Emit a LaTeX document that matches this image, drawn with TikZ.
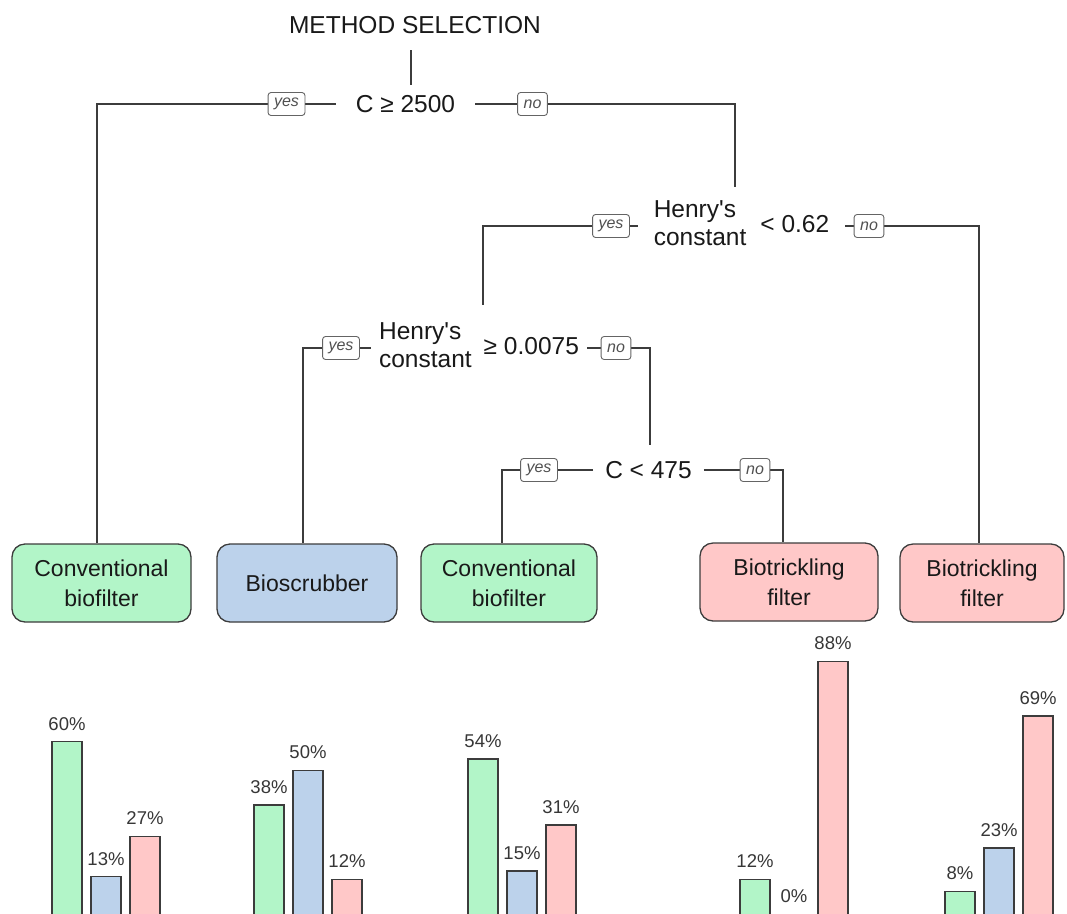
\documentclass[tikz,border=0pt]{standalone}
\usepackage{fontspec}
\newfontfamily\arial{Liberation Sans}
\definecolor{lgreen}{RGB}{178,245,200}
\definecolor{lblue}{RGB}{188,210,235}
\definecolor{lred}{RGB}{255,200,200}
\definecolor{edge}{RGB}{60,60,60}
\definecolor{txt}{RGB}{25,25,25}
\definecolor{pcttxt}{RGB}{55,55,55}
\definecolor{ynbox}{RGB}{100,100,100}
\definecolor{yntxt}{RGB}{80,80,80}
\begin{document}
\begin{tikzpicture}[x=1pt,y=-1pt,
  conn/.style={draw=edge, line width=1.2pt},
  split/.style={font=\arial\fontsize{24.5}{28}\selectfont, text=txt, inner ysep=0pt},
  yn/.style={draw=ynbox, fill=white, rounded corners=3pt, line width=0.9pt,
    font=\arial\itshape\fontsize{16}{19}\selectfont, text=yntxt,
    inner xsep=6pt, inner ysep=0pt, minimum height=23pt},
  leaf/.style={draw=edge, line width=1.3pt, rounded corners=13pt, minimum height=78pt,
    align=center, font=\arial\fontsize{23}{30}\selectfont, text=txt},
  barbox/.style={draw=edge, line width=1.1pt},
  pct/.style={font=\arial\fontsize{18.5}{22}\selectfont, text=pcttxt, inner sep=0pt}
]
\fill[white] (0,0) rectangle (1067,913);
\useasboundingbox (0,0) rectangle (1067,913);

% split nodes
\node[split] (title) at (415,25) {METHOD SELECTION};
\node[split, inner xsep=20pt] (s1) at (405.5,104) {C ≥ 2500};
\node[split, inner xsep=16pt] (s2) at (741.5,226) {\begin{tabular}{@{}l@{}}Henry's\\constant\end{tabular}\hspace{14pt}< 0.62};
\node[split, inner xsep=8pt] (s3) at (479,348) {\begin{tabular}{@{}l@{}}Henry's\\constant\end{tabular}\hspace{12pt}≥ 0.0075};
\node[split, inner xsep=12pt] (s4) at (648.5,470) {C < 475};

% leaves
\node[leaf, fill=lgreen, minimum width=179pt] (l1) at (101.5,583) {Conventional\\biofilter};
\node[leaf, fill=lblue, minimum width=180pt] (l2) at (307,583) {Bioscrubber};
\node[leaf, fill=lgreen, minimum width=176pt] (l3) at (509,583) {Conventional\\biofilter};
\node[leaf, fill=lred, minimum width=178pt] (l4) at (789,582) {Biotrickling\\filter};
\node[leaf, fill=lred, minimum width=164pt] (l5) at (982,583) {Biotrickling\\filter};

% connector ends
\coordinate (tA) at (411,50);
\coordinate (tB) at (411,85);
\coordinate (t2) at (735,187);
\coordinate (t3) at (483,305);
\coordinate (t4) at (650,445);

% connectors (drawn before yes/no boxes, which sit on top)
\draw[conn] (tA) -- (tB);
\draw[conn] (s1.west) -| ([xshift=-4.5pt]l1.north);
\draw[conn] (s1.east) -| (t2);
\draw[conn] (s2.west) -| (t3);
\draw[conn] (s2.east) -| ([xshift=-3pt]l5.north);
\draw[conn] (s3.west) -| ([xshift=-4pt]l2.north);
\draw[conn] (s3.east) -| (t4);
\draw[conn] (s4.west) -| ([xshift=-7pt]l3.north);
\draw[conn] (s4.east) -| ([xshift=-6pt]l4.north);

% yes / no labels
\node[yn] (y1) at (286.5,104) {yes};
\node[yn] (n1) at (532.5,104) {no};
\node[yn] (y2) at (611,226) {yes};
\node[yn] (n2) at (869,226) {no};
\node[yn] (y3) at (341,348) {yes};
\node[yn] (n3) at (616,348) {no};
\node[yn] (y4) at (539,470) {yes};
\node[yn] (n4) at (755,470) {no};

% bars
\foreach \x/\p/\c [count=\i] in {
  52/60/lgreen, 91/13/lblue, 130/27/lred,
  254/38/lgreen, 293/50/lblue, 332/12/lred,
  468/54/lgreen, 507/15/lblue, 546/31/lred,
  740/12/lgreen, 779/0/lblue, 818/88/lred,
  945/8/lgreen, 984/23/lblue, 1023/69/lred} {
  \ifnum\p>0
    \draw[barbox, fill=\c] (\x,916) rectangle (\x+30,914-2.87*\p);
  \fi
  \node[pct] (pct\i) at (\x+15,914-2.87*\p-18) {\p\%};
}
\end{tikzpicture}
\end{document}
